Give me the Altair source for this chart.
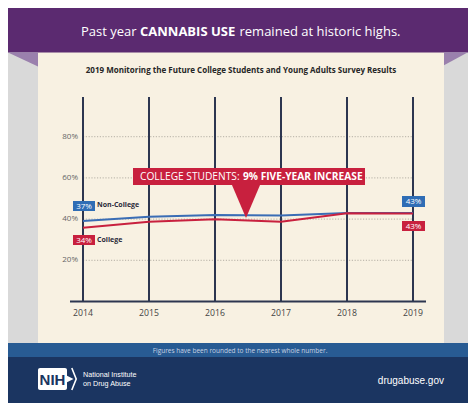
import altair as alt
import pandas as pd

# ---------------- data ----------------
years = [2014, 2015, 2016, 2017, 2018, 2019]
year_labels = ["2014", "2015", "2016", "2017", "2018", "2019"]
non_college = [39.1, 41.2, 42.0, 41.8, 43.0, 43.0]
college = [35.8, 38.7, 39.9, 38.7, 42.8, 42.7]
y_ticks = [20, 40, 60, 80]
y_tick_labels = ["20%", "40%", "60%", "80%"]
series_names = ["Non-College", "College"]
start_labels = ["37%", "34%"]
end_labels = ["43%", "43%"]

# ---------------- styles ----------------
PURPLE = "#5b2a70"
PURPLE_LIGHT = "#9a80ad"
GREY = "#d9d9d9"
CREAM = "#f8f1e2"
NAVY_LINE = "#2d3650"
BLUE = "#3a6db5"
BLUE_BOX = "#2f6db5"
RED = "#c8203e"
STRIP = "#285b93"
NAVY = "#1b3561"
GRID = "#b5b0a5"
FONT = "Open Sans"

xs = alt.Scale(domain=[2014, 2019], range=[83, 413], nice=False, zero=False)
ys = alt.Scale(domain=[0, 80], range=[301.5, 136.7], nice=False, zero=False)

one = pd.DataFrame({"k": [0]})


def box(x, x2, y, y2, color, **kw):
    return alt.Chart(one).mark_rect(color=color, **kw).encode(
        x=alt.value(x), x2=alt.value(x2), y=alt.value(y), y2=alt.value(y2)
    )


def txt(s, x, y, size, color, weight="normal", align="left", font=FONT):
    return alt.Chart(one).mark_text(
        text=s, fontSize=size, color=color, fontWeight=weight,
        align=align, baseline="middle", font=font
    ).encode(x=alt.value(x), y=alt.value(y))


def shape(path, x, y, size, color, filled=True, sw=0):
    return alt.Chart(one).mark_point(
        shape=path, size=size, filled=filled, color=color, opacity=1,
        strokeWidth=sw
    ).encode(x=alt.value(x), y=alt.value(y))


layers = []

# backgrounds
layers.append(box(8, 468, 52, 343, GREY))
layers.append(box(38, 444, 52, 343, CREAM))
layers.append(box(8, 468, 8, 52.5, PURPLE))
layers.append(shape("M-1,-0.47L1,-0.47L1,0.47Z", 23, 59.5, 900, PURPLE_LIGHT))
layers.append(shape("M-1,-0.54L1,-0.54L-1,0.54Z", 456, 58.8, 576, PURPLE_LIGHT))
layers.append(box(8, 468, 343, 357, STRIP))
layers.append(box(8, 468, 357, 403, NAVY))

# banner title
layers.append(txt("Past year", 81, 32, 13, "white"))
layers.append(txt("CANNABIS USE", 140, 32, 13, "white", weight="bold"))
layers.append(txt("remained at historic highs.", 239.5, 32, 13, "white"))

# subtitle
layers.append(txt("2019 Monitoring the Future College Students and Young Adults Survey Results",
                  241, 71, 8, "#262626", weight="bold", align="center"))

# gridlines
grid_df = pd.DataFrame({"v": y_ticks, "label": y_tick_labels})
layers.append(
    alt.Chart(grid_df).mark_rule(color=GRID, strokeDash=[1.2, 1.6], strokeWidth=1).encode(
        x=alt.value(83), x2=alt.value(413), y=alt.Y("v:Q", scale=ys, axis=None)
    )
)
layers.append(
    alt.Chart(grid_df).mark_text(align="right", baseline="middle", fontSize=8,
                                 color="#666666", font=FONT).encode(
        x=alt.value(78), y=alt.Y("v:Q", scale=ys, axis=None), text="label:N"
    )
)

# vertical year rules
year_df = pd.DataFrame({"year": years, "label": year_labels})
layers.append(
    alt.Chart(year_df).mark_rule(color=NAVY_LINE, strokeWidth=2).encode(
        x=alt.X("year:Q", scale=xs, axis=None), y=alt.value(97), y2=alt.value(302)
    )
)
# baseline
layers.append(
    alt.Chart(one).mark_rule(color=NAVY_LINE, strokeWidth=2).encode(
        x=alt.value(70), x2=alt.value(426), y=alt.YDatum(0, scale=ys, axis=None)
    )
)
# year labels
layers.append(
    alt.Chart(year_df).mark_text(baseline="middle", fontSize=8.7, color="#444444",
                                 font=FONT).encode(
        x=alt.X("year:Q", scale=xs, axis=None), y=alt.value(313), text="label:N"
    )
)

# lines
nc_df = pd.DataFrame({"year": years, "value": non_college})
c_df = pd.DataFrame({"year": years, "value": college})
layers.append(
    alt.Chart(nc_df).mark_line(color=BLUE, strokeWidth=2).encode(
        x=alt.X("year:Q", scale=xs, axis=None), y=alt.Y("value:Q", scale=ys, axis=None)
    )
)
layers.append(
    alt.Chart(c_df).mark_line(color=RED, strokeWidth=2).encode(
        x=alt.X("year:Q", scale=xs, axis=None), y=alt.Y("value:Q", scale=ys, axis=None)
    )
)

# value label boxes
box_specs = [
    (years[0], start_labels[0], BLUE_BOX, 201, 211, -10, 12),
    (years[0], start_labels[1], RED, 235, 245, -10, 12),
    (years[-1], end_labels[0], BLUE_BOX, 196, 207, -11, 12),
    (years[-1], end_labels[1], RED, 221, 231, -11, 12),
]
for yr, lab, col, t, b, o1, o2 in box_specs:
    d = pd.DataFrame({"year": [yr], "label": [lab]})
    layers.append(
        alt.Chart(d).mark_rect(color=col, xOffset=o1, x2Offset=o2).encode(
            x=alt.X("year:Q", scale=xs, axis=None), x2="year:Q",
            y=alt.value(t), y2=alt.value(b)
        )
    )
    layers.append(
        alt.Chart(d).mark_text(color="white", fontSize=8, baseline="middle",
                               font=FONT, dx=(o1 + o2) / 2).encode(
            x=alt.X("year:Q", scale=xs, axis=None), y=alt.value((t + b) / 2 + 0.5),
            text="label:N"
        )
    )

# series names
layers.append(txt(series_names[0], 97, 205, 7, "#2b2b3a", weight="bold"))
layers.append(txt(series_names[1], 97, 240, 7, "#2b2b3a", weight="bold"))

# callout
layers.append(box(133, 365, 168, 185, RED))
layers.append(shape("M-0.85,-1L0.85,-1L0,1Z", 246, 201, 34 * 34, RED))
layers.append(txt("COLLEGE STUDENTS:", 140, 177, 10.2, "white"))
layers.append(txt("9% FIVE-YEAR INCREASE", 243, 177, 10.2, "white", weight="bold"))

# footer
layers.append(txt("Figures have been rounded to the nearest whole number.",
                  240, 350.5, 6.5, "#c9d3e3", align="center"))
layers.append(box(38, 67, 368, 390, "white", cornerRadius=2))
layers.append(shape("M-1,-1L1,0L-1,1Z", 68, 379, 22 * 22 / 4, "white"))
layers.append(shape("M-0.2,-1L0.2,0L-0.2,1", 74, 379, 22 * 22, "white", filled=False, sw=1.6))
layers.append(txt("NIH", 52.5, 379.5, 15, NAVY, weight="bold", align="center",
                  font="Liberation Sans"))
layers.append(txt("National Institute", 83, 375, 7.2, "white", font="Liberation Sans"))
layers.append(txt("on Drug Abuse", 83, 384, 7.2, "white", font="Liberation Sans"))
layers.append(txt("drugabuse.gov", 444, 381, 10, "white", align="right",
                  font="Liberation Sans"))

chart = alt.layer(*layers).properties(
    width=468, height=404, padding=0, autosize="none", background="white"
).configure_view(stroke=None)

chart.save("out.html", embed_options={"renderer": "svg", "actions": False})
